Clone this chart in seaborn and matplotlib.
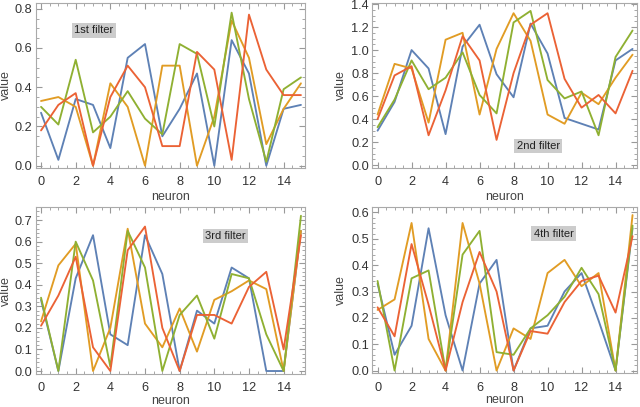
import numpy as np
import pandas as pd
import seaborn as sns
import matplotlib.pyplot as plt
from matplotlib.ticker import MultipleLocator

neuron = list(range(16))

# filter 1
f1_blue = [0.27, 0.03, 0.34, 0.31, 0.09, 0.55, 0.62, 0.15, 0.29, 0.47, 0.00, 0.64, 0.47, 0.00, 0.29, 0.31]
f1_orange = [0.33, 0.35, 0.30, 0.00, 0.42, 0.30, 0.00, 0.51, 0.51, 0.00, 0.25, 0.74, 0.55, 0.11, 0.29, 0.42]
f1_green = [0.30, 0.21, 0.54, 0.17, 0.25, 0.38, 0.24, 0.16, 0.62, 0.57, 0.20, 0.78, 0.34, 0.02, 0.39, 0.45]
f1_red = [0.18, 0.31, 0.37, 0.00, 0.35, 0.51, 0.40, 0.10, 0.10, 0.58, 0.49, 0.03, 0.77, 0.49, 0.36, 0.36]

# filter 2
f2_blue = [0.30, 0.55, 1.00, 0.84, 0.27, 1.03, 1.22, 0.79, 0.59, 1.23, 0.97, 0.41, 0.36, 0.31, 0.91, 1.01]
f2_orange = [0.44, 0.88, 0.84, 0.37, 1.09, 1.15, 0.44, 1.01, 1.32, 1.08, 0.44, 0.36, 0.63, 0.53, 0.76, 0.96]
f2_green = [0.33, 0.57, 0.91, 0.66, 0.76, 0.98, 0.61, 0.45, 1.24, 1.34, 0.74, 0.58, 0.64, 0.26, 0.94, 1.17]
f2_red = [0.40, 0.78, 0.86, 0.26, 0.65, 1.12, 0.91, 0.22, 0.80, 1.22, 1.32, 0.75, 0.50, 0.61, 0.45, 0.82]

# filter 3
f3_blue = [0.33, 0.00, 0.43, 0.63, 0.17, 0.12, 0.63, 0.45, 0.00, 0.28, 0.22, 0.48, 0.43, 0.00, 0.00, 0.65]
f3_orange = [0.23, 0.49, 0.59, 0.00, 0.20, 0.66, 0.22, 0.11, 0.29, 0.09, 0.33, 0.37, 0.42, 0.38, 0.00, 0.65]
f3_green = [0.34, 0.00, 0.60, 0.42, 0.02, 0.65, 0.48, 0.00, 0.26, 0.35, 0.15, 0.45, 0.43, 0.17, 0.00, 0.72]
f3_red = [0.21, 0.35, 0.53, 0.11, 0.00, 0.56, 0.67, 0.20, 0.00, 0.26, 0.26, 0.22, 0.39, 0.46, 0.10, 0.63]

# filter 4
f4_blue = [0.33, 0.06, 0.17, 0.54, 0.21, 0.00, 0.33, 0.42, 0.00, 0.16, 0.17, 0.30, 0.37, 0.19, 0.00, 0.54]
f4_orange = [0.23, 0.27, 0.56, 0.12, 0.00, 0.56, 0.33, 0.00, 0.16, 0.12, 0.37, 0.42, 0.32, 0.37, 0.00, 0.59]
f4_green = [0.34, 0.00, 0.35, 0.38, 0.00, 0.44, 0.53, 0.07, 0.06, 0.16, 0.21, 0.28, 0.39, 0.29, 0.00, 0.55]
f4_red = [0.24, 0.13, 0.48, 0.25, 0.00, 0.26, 0.45, 0.30, 0.00, 0.15, 0.14, 0.26, 0.34, 0.36, 0.22, 0.51]

labels = ["1st filter", "2nd filter", "3rd filter", "4th filter"]
ylo = [-0.012, -0.025, -0.014, -0.01]
yhi = [0.83, 1.41, 0.76, 0.62]
ystep = [0.2, 0.2, 0.1, 0.1]
label_pos = [(3.05, 0.69), (9.45, 0.165), (10.65, 0.625), (10.35, 0.52)]

colors = ["#5E81B5", "#E19C24", "#8FB032", "#EB6235"]
series_names = ["s1", "s2", "s3", "s4"]

filters = [
    [f1_blue, f1_orange, f1_green, f1_red],
    [f2_blue, f2_orange, f2_green, f2_red],
    [f3_blue, f3_orange, f3_green, f3_red],
    [f4_blue, f4_orange, f4_green, f4_red],
]

sns.set_style("ticks")
plt.rcParams['font.family'] = ['Liberation Sans', 'DejaVu Sans']

fig, axes = plt.subplots(2, 2, figsize=(6.4, 4.07), dpi=100)
# panel boxes in figure fractions (left, bottom, width, height)
boxes = [(0.056, 0.587, 0.421, 0.406), (0.582, 0.587, 0.413, 0.406),
         (0.056, 0.081, 0.421, 0.410), (0.582, 0.083, 0.413, 0.408)]
ylab_x = [-0.111, -0.119, -0.111, -0.119]
xlab_y = [-0.176, -0.176, -0.163, -0.163]

for k, ax in enumerate(axes.flat):
    ax.set_position(boxes[k])
    rows = []
    for name, vals in zip(series_names, filters[k]):
        for n, v in zip(neuron, vals):
            rows.append({"neuron": n, "value": v, "series": name})
    df = pd.DataFrame(rows)
    sns.lineplot(data=df, x="neuron", y="value", hue="series", palette=colors,
                 linewidth=1.35, legend=False, ax=ax)
    ax.set_xlim(-0.3, 15.25)
    ax.set_ylim(ylo[k], yhi[k])
    ax.xaxis.set_major_locator(MultipleLocator(2))
    ax.xaxis.set_minor_locator(MultipleLocator(0.5))
    ax.yaxis.set_major_locator(MultipleLocator(ystep[k]))
    ax.yaxis.set_minor_locator(MultipleLocator(ystep[k] / 4 if ystep[k] == 0.2 else ystep[k] / 5))
    ax.yaxis.set_major_formatter(plt.FormatStrFormatter('%.1f'))
    ax.tick_params(which='both', direction='in', top=True, right=True, color='#999999')
    ax.tick_params(which='major', length=4, labelsize=9.2, labelcolor='#333333')
    ax.tick_params(which='minor', length=2)
    ax.tick_params(axis='x', which='major', pad=6)
    ax.tick_params(axis='y', which='major', pad=2.5)
    for sp in ax.spines.values():
        sp.set_color('#aaaaaa')
        sp.set_linewidth(0.8)
    ax.set_xlabel("neuron", fontsize=9, color='#444444', va='center')
    ax.set_ylabel("value", fontsize=9, color='#444444', va='center')
    ax.xaxis.set_label_coords(0.5, xlab_y[k])
    ax.yaxis.set_label_coords(ylab_x[k], 0.5)
    lx, ly = label_pos[k]
    ax.text(lx, ly, labels[k], fontsize=8, ha='center', va='center', color='#222222',
            bbox=dict(boxstyle='square,pad=0.2', fc='#cccccc', ec='none'))

fig.savefig("out.png", dpi=100)
